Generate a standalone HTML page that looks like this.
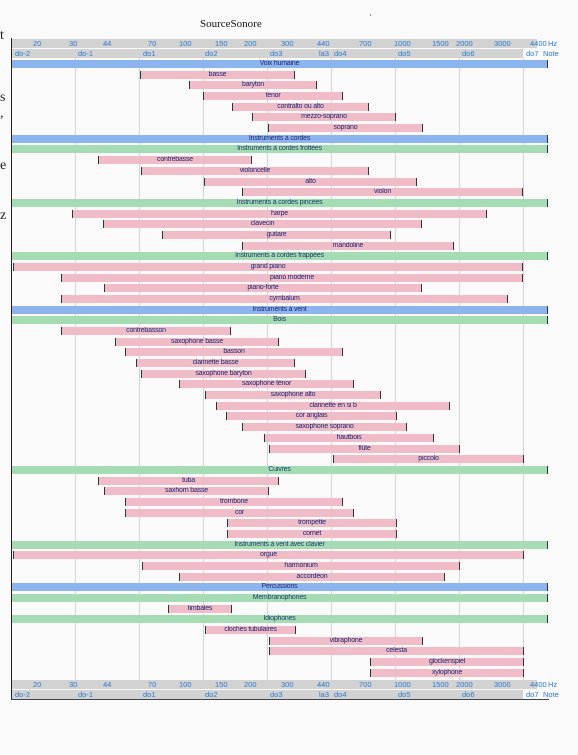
<!DOCTYPE html>
<html><head><meta charset="utf-8"><style>
html,body{margin:0;padding:0;background:#fafafa;width:578px;height:755px;overflow:hidden;position:relative;font-family:"Liberation Sans",sans-serif}
.a{position:absolute}
.g{position:absolute;top:58px;height:622px;width:1px;background:#d4d4d4}
.b{position:absolute;height:8px;line-height:8px;font-size:7px;text-align:center;color:#1c2470;white-space:nowrap;overflow:hidden;letter-spacing:-0.2px}
.p{background:#efbcc8;border-left:1px solid #333;border-right:1px solid #333;box-sizing:border-box}
.B{background:#8cb4ef;left:12px;width:536px;border-right:1px solid #333;box-sizing:border-box}
.G{background:#a6dcb4;left:12px;width:536px;border-right:1px solid #333;box-sizing:border-box;color:#1a3a6a}
.h{position:absolute;font-size:7.5px;color:#2a7ad0;line-height:9px;white-space:nowrap}
.gr{position:absolute;background:#d2d2d2;height:9px}
.s{position:absolute;font-family:"Liberation Serif",serif;font-size:14px;color:#222;left:0}
</style></head><body>
<div class="a" style="left:200px;top:18px;font-family:'Liberation Serif',serif;font-size:11px;color:#111">SourceSonore</div>
<div class="a" style="left:370px;top:14px;width:1px;height:2px;background:#888"></div>
<div class="s" style="top:28px">t</div>
<div class="s" style="top:90px">s</div>
<div class="s" style="top:106px">,</div>
<div class="s" style="top:158px">e</div>
<div class="s" style="top:208px">z</div>

<!-- headers top -->
<div class="gr" style="left:12px;top:39px;width:525px"></div>
<div class="gr" style="left:12px;top:49px;width:511px"></div>
<!-- headers bottom -->
<div class="gr" style="left:12px;top:680px;width:525px"></div>
<div class="gr" style="left:12px;top:690px;width:511px"></div>

<div class="a" style="left:11px;top:38px;width:1px;height:662px;background:#222"></div>
<div class="a" style="left:11px;top:699px;width:538px;height:1px;background:#444"></div>

<div class="g" style="left:75px"></div><div class="g" style="left:139px"></div><div class="g" style="left:203px"></div><div class="g" style="left:267px"></div><div class="g" style="left:331px"></div><div class="g" style="left:395px"></div><div class="g" style="left:459px"></div><div class="g" style="left:523px"></div>

<!-- top labels -->
<div class="h" style="top:39px;left:33px">20</div><div class="h" style="top:39px;left:69px">30</div><div class="h" style="top:39px;left:103px">44</div><div class="h" style="top:39px;left:148px">70</div><div class="h" style="top:39px;left:179px">100</div><div class="h" style="top:39px;left:215px">150</div><div class="h" style="top:39px;left:244px">200</div><div class="h" style="top:39px;left:281px">300</div><div class="h" style="top:39px;left:317px">440</div><div class="h" style="top:39px;left:359px">700</div><div class="h" style="top:39px;left:394px">1000</div><div class="h" style="top:39px;left:432px">1500</div><div class="h" style="top:39px;left:456px">2000</div><div class="h" style="top:39px;left:494px">3000</div><div class="h" style="top:39px;left:530px">4400</div><div class="h" style="top:39px;left:548px">Hz</div>
<div class="h" style="top:49px;left:15px">do-2</div><div class="h" style="top:49px;left:78px">do-1</div><div class="h" style="top:49px;left:143px">do1</div><div class="h" style="top:49px;left:205px">do2</div><div class="h" style="top:49px;left:270px">do3</div><div class="h" style="top:49px;left:319px">la3</div><div class="h" style="top:49px;left:334px">do4</div><div class="h" style="top:49px;left:398px">do5</div><div class="h" style="top:49px;left:462px">do6</div><div class="h" style="top:49px;left:526px">do7</div><div class="h" style="top:49px;left:543px">Note</div>
<!-- bottom labels -->
<div class="h" style="top:680px;left:33px">20</div><div class="h" style="top:680px;left:69px">30</div><div class="h" style="top:680px;left:103px">44</div><div class="h" style="top:680px;left:148px">70</div><div class="h" style="top:680px;left:179px">100</div><div class="h" style="top:680px;left:215px">150</div><div class="h" style="top:680px;left:244px">200</div><div class="h" style="top:680px;left:281px">300</div><div class="h" style="top:680px;left:317px">440</div><div class="h" style="top:680px;left:359px">700</div><div class="h" style="top:680px;left:394px">1000</div><div class="h" style="top:680px;left:432px">1500</div><div class="h" style="top:680px;left:456px">2000</div><div class="h" style="top:680px;left:494px">3000</div><div class="h" style="top:680px;left:530px">4400</div><div class="h" style="top:680px;left:548px">Hz</div>
<div class="h" style="top:690px;left:15px">do-2</div><div class="h" style="top:690px;left:78px">do-1</div><div class="h" style="top:690px;left:143px">do1</div><div class="h" style="top:690px;left:205px">do2</div><div class="h" style="top:690px;left:270px">do3</div><div class="h" style="top:690px;left:319px">la3</div><div class="h" style="top:690px;left:334px">do4</div><div class="h" style="top:690px;left:398px">do5</div><div class="h" style="top:690px;left:462px">do6</div><div class="h" style="top:690px;left:526px">do7</div><div class="h" style="top:690px;left:543px">Note</div>

<!-- rows -->
<div class="b B" style="top:60px">Voix humaine</div>
<div class="b p" style="top:70.7px;left:140px;width:155px">basse</div>
<div class="b p" style="top:81.4px;left:189px;width:128px">baryton</div>
<div class="b p" style="top:92px;left:203px;width:140px">ténor</div>
<div class="b p" style="top:102.7px;left:232px;width:137px">contralto ou alto</div>
<div class="b p" style="top:113.4px;left:252px;width:144px">mezzo-soprano</div>
<div class="b p" style="top:124.1px;left:268px;width:155px">soprano</div>
<div class="b B" style="top:134.8px">Instruments à cordes</div>
<div class="b G" style="top:145.4px">Instruments à cordes frottées</div>
<div class="b p" style="top:156.1px;left:98px;width:154px">contrebasse</div>
<div class="b p" style="top:166.8px;left:141px;width:228px">violoncelle</div>
<div class="b p" style="top:177.5px;left:204px;width:213px">alto</div>
<div class="b p" style="top:188.2px;left:242px;width:281px">violon</div>
<div class="b G" style="top:198.8px">Instruments à cordes pincées</div>
<div class="b p" style="top:209.5px;left:72px;width:415px">harpe</div>
<div class="b p" style="top:220.2px;left:103px;width:319px">clavecin</div>
<div class="b p" style="top:230.9px;left:162px;width:229px">guitare</div>
<div class="b p" style="top:241.6px;left:242px;width:212px">mandoline</div>
<div class="b G" style="top:252.2px">Instruments à cordes frappées</div>
<div class="b p" style="top:262.9px;left:13px;width:510px">grand piano</div>
<div class="b p" style="top:273.6px;left:61px;width:462px">piano moderne</div>
<div class="b p" style="top:284.3px;left:104px;width:318px">piano-forte</div>
<div class="b p" style="top:295px;left:61px;width:447px">cymbalum</div>
<div class="b B" style="top:305.6px">Instruments à vent</div>
<div class="b G" style="top:316.3px">Bois</div>
<div class="b p" style="top:327px;left:61px;width:170px">contrebasson</div>
<div class="b p" style="top:337.7px;left:115px;width:164px">saxophone basse</div>
<div class="b p" style="top:348.4px;left:125px;width:218px">basson</div>
<div class="b p" style="top:359px;left:136px;width:159px">clarinette basse</div>
<div class="b p" style="top:369.7px;left:141px;width:165px">saxophone baryton</div>
<div class="b p" style="top:380.4px;left:179px;width:175px">saxophone ténor</div>
<div class="b p" style="top:391.1px;left:205px;width:176px">saxophone alto</div>
<div class="b p" style="top:401.8px;left:216px;width:234px">clarinette en si b</div>
<div class="b p" style="top:412.4px;left:226px;width:171px">cor anglais</div>
<div class="b p" style="top:423.1px;left:242px;width:165px">saxophone soprano</div>
<div class="b p" style="top:433.8px;left:264px;width:170px">hautbois</div>
<div class="b p" style="top:444.5px;left:269px;width:191px">flûte</div>
<div class="b p" style="top:455.2px;left:333px;width:191px">piccolo</div>
<div class="b G" style="top:465.8px">Cuivres</div>
<div class="b p" style="top:476.5px;left:98px;width:181px">tuba</div>
<div class="b p" style="top:487.2px;left:104px;width:165px">saxhorn basse</div>
<div class="b p" style="top:497.9px;left:125px;width:218px">trombone</div>
<div class="b p" style="top:508.6px;left:125px;width:229px">cor</div>
<div class="b p" style="top:519.2px;left:227px;width:170px">trompette</div>
<div class="b p" style="top:529.9px;left:227px;width:170px">cornet</div>
<div class="b G" style="top:540.6px">Instruments à vent avec clavier</div>
<div class="b p" style="top:551.3px;left:13px;width:511px">orgue</div>
<div class="b p" style="top:562px;left:142px;width:318px">harmonium</div>
<div class="b p" style="top:572.6px;left:179px;width:266px">accordéon</div>
<div class="b B" style="top:583.3px">Percussions</div>
<div class="b G" style="top:594px">Membranophones</div>
<div class="b p" style="top:604.7px;left:168px;width:64px">timbales</div>
<div class="b G" style="top:615.4px">Idiophones</div>
<div class="b p" style="top:626px;left:205px;width:91px">cloches tubulaires</div>
<div class="b p" style="top:636.7px;left:269px;width:154px">vibraphone</div>
<div class="b p" style="top:647.4px;left:269px;width:255px">celesta</div>
<div class="b p" style="top:658.1px;left:370px;width:154px">glockenspiel</div>
<div class="b p" style="top:668.8px;left:370px;width:154px">xylophone</div>
</body></html>
